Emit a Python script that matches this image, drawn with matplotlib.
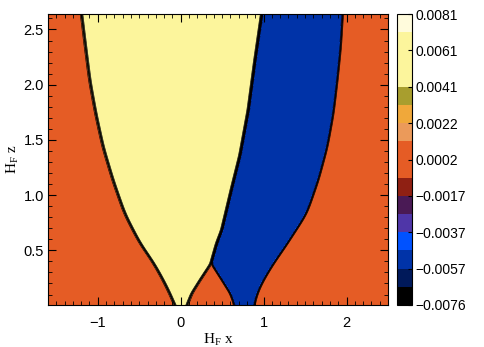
import numpy as np
import matplotlib
matplotlib.use("Agg")
import matplotlib.pyplot as plt
from matplotlib.ticker import MultipleLocator

# Region edges: height z and the x of the edge there
yl_z = [0.005, 0.035, 0.111, 0.231, 0.383, 0.566, 0.829, 1.131, 1.433, 1.734, 2.036, 2.338, 2.64]
yl_x = [-0.069, -0.089, -0.129, -0.210, -0.322, -0.491, -0.672, -0.813, -0.933, -1.021, -1.094, -1.145, -1.194]

yr_z = [0.005, 0.035, 0.111, 0.231, 0.383, 0.564, 0.684, 1.062, 1.363, 1.771, 2.223, 2.64]
yr_x = [0.076, 0.092, 0.133, 0.233, 0.366, 0.434, 0.495, 0.615, 0.715, 0.815, 0.896, 0.977]

bl_z = [0.005, 0.035, 0.111, 0.231, 0.383, 0.564, 0.684, 1.062, 1.363, 1.771, 2.223, 2.64]
bl_x = [0.643, 0.634, 0.595, 0.495, 0.366, 0.436, 0.497, 0.617, 0.717, 0.817, 0.898, 0.979]

br_z = [0.005, 0.044, 0.134, 0.225, 0.376, 0.527, 0.829, 1.131, 1.433, 1.734, 2.036, 2.338, 2.64]
br_x = [0.890, 0.896, 0.936, 0.996, 1.117, 1.258, 1.519, 1.659, 1.768, 1.841, 1.889, 1.930, 1.954]

# value inside each region
yellow_val = 0.0066
blue_val = -0.0052
background_val = 0.0

vmin, vmax = -0.0076, 0.0081
cbar_labels = ["\u22120.0076", "\u22120.0057", "\u22120.0037", "\u22120.0017",
               "0.0002", "0.0022", "0.0041", "0.0061", "0.0081"]

band_colors = ["#000000", "#00195a", "#0033a8", "#0052ff", "#4f36a8", "#4a1a55",
               "#8f2013", "#e55c25", "#e55c25", "#eb9a5a", "#f0a83a", "#a89e2e",
               "#fcf59c", "#fcf59c", "#fcf59c", "#fffbdc"]


def _step(d, w=0.011):
    return 0.5 * (1.0 + np.tanh(d / w))


def _edge(z, zs, xs, sigma):
    # piecewise edge, then a gaussian smoothing so it isn't kinked
    e = np.interp(z, zs, xs)
    dz = z[1] - z[0]
    k = np.arange(-int(4 * sigma / dz), int(4 * sigma / dz) + 1) * dz
    k = np.exp(-0.5 * (k / sigma) ** 2)
    k /= k.sum()
    n = len(k) // 2
    # mirror-extrapolate at the ends so the smoothing keeps the end slopes
    lo = 2 * e[0] - e[1:n + 1][::-1]
    hi = 2 * e[-1] - e[-n - 1:-1][::-1]
    return np.convolve(np.concatenate([lo, e, hi]), k, mode="valid")


def _build_field(x, z):
    X, Z = np.meshgrid(x, z)
    xl = _edge(z, yl_z, yl_x, 0.06)[:, None]
    xr = _edge(z, yr_z, yr_x, 0.02)[:, None]
    bl = _edge(z, bl_z, bl_x, 0.02)[:, None]
    br = _edge(z, br_z, br_x, 0.06)[:, None]
    yel = _step(X - xl) * _step(xr - X)
    blu = _step(X - bl) * _step(br - X)
    F = background_val + (yellow_val - background_val) * yel + (blue_val - background_val) * blu
    return X, Z, F


plt.rcParams["font.family"] = "Liberation Sans"
plt.rcParams["mathtext.fontset"] = "custom"
plt.rcParams["mathtext.rm"] = "Liberation Serif"
plt.rcParams["mathtext.it"] = "Liberation Serif"

x = np.linspace(-1.6, 2.5, 1000)
z = np.linspace(0.005, 2.64, 700)
X, Z, F = _build_field(x, z)
levels = np.linspace(vmin, vmax, 17)

fig = plt.figure(figsize=(4.85, 3.47), dpi=100)
ax = fig.add_axes([48 / 485, 42 / 347, 340 / 485, 291 / 347])
cax = fig.add_axes([397.5 / 485, 42 / 347, 15 / 485, 291 / 347])

cf = ax.contourf(X, Z, F, levels=levels, colors=band_colors)
ax.contour(X, Z, F, levels=levels[1:-1], colors="k", linewidths=0.45,
           negative_linestyles="solid")

ax.set_xlim(-1.6, 2.5)
ax.set_ylim(0.005, 2.64)
ax.set_xticks([-1, 0, 1, 2])
ax.set_xticklabels(["\u22121", "0", "1", "2"])
ax.set_yticks([0.5, 1.0, 1.5, 2.0, 2.5])
ax.set_yticklabels(["0.5", "1.0", "1.5", "2.0", "2.5"])
ax.xaxis.set_minor_locator(MultipleLocator(0.1))
ax.yaxis.set_minor_locator(MultipleLocator(0.1))
ax.tick_params(which="both", direction="in", top=True, right=True, labelsize=10.5)
ax.tick_params(axis="x", pad=8)
ax.tick_params(axis="y", pad=3)
ax.tick_params(which="major", length=6, width=0.8)
ax.tick_params(which="minor", length=3, width=0.6)
ax.set_xlabel(r"$\mathrm{H_F\ x}$", fontsize=11, labelpad=1)
ax.set_ylabel(r"$\mathrm{H_F\ z}$", fontsize=11, labelpad=2)

cbar = fig.colorbar(cf, cax=cax)
cbar.set_ticks(np.linspace(vmin, vmax, 9))
cbar.set_ticklabels(cbar_labels)
cbar.ax.tick_params(direction="in", length=3, labelsize=10, pad=2)
cbar.outline.set_linewidth(0.8)

fig.savefig("out.png", dpi=100)
